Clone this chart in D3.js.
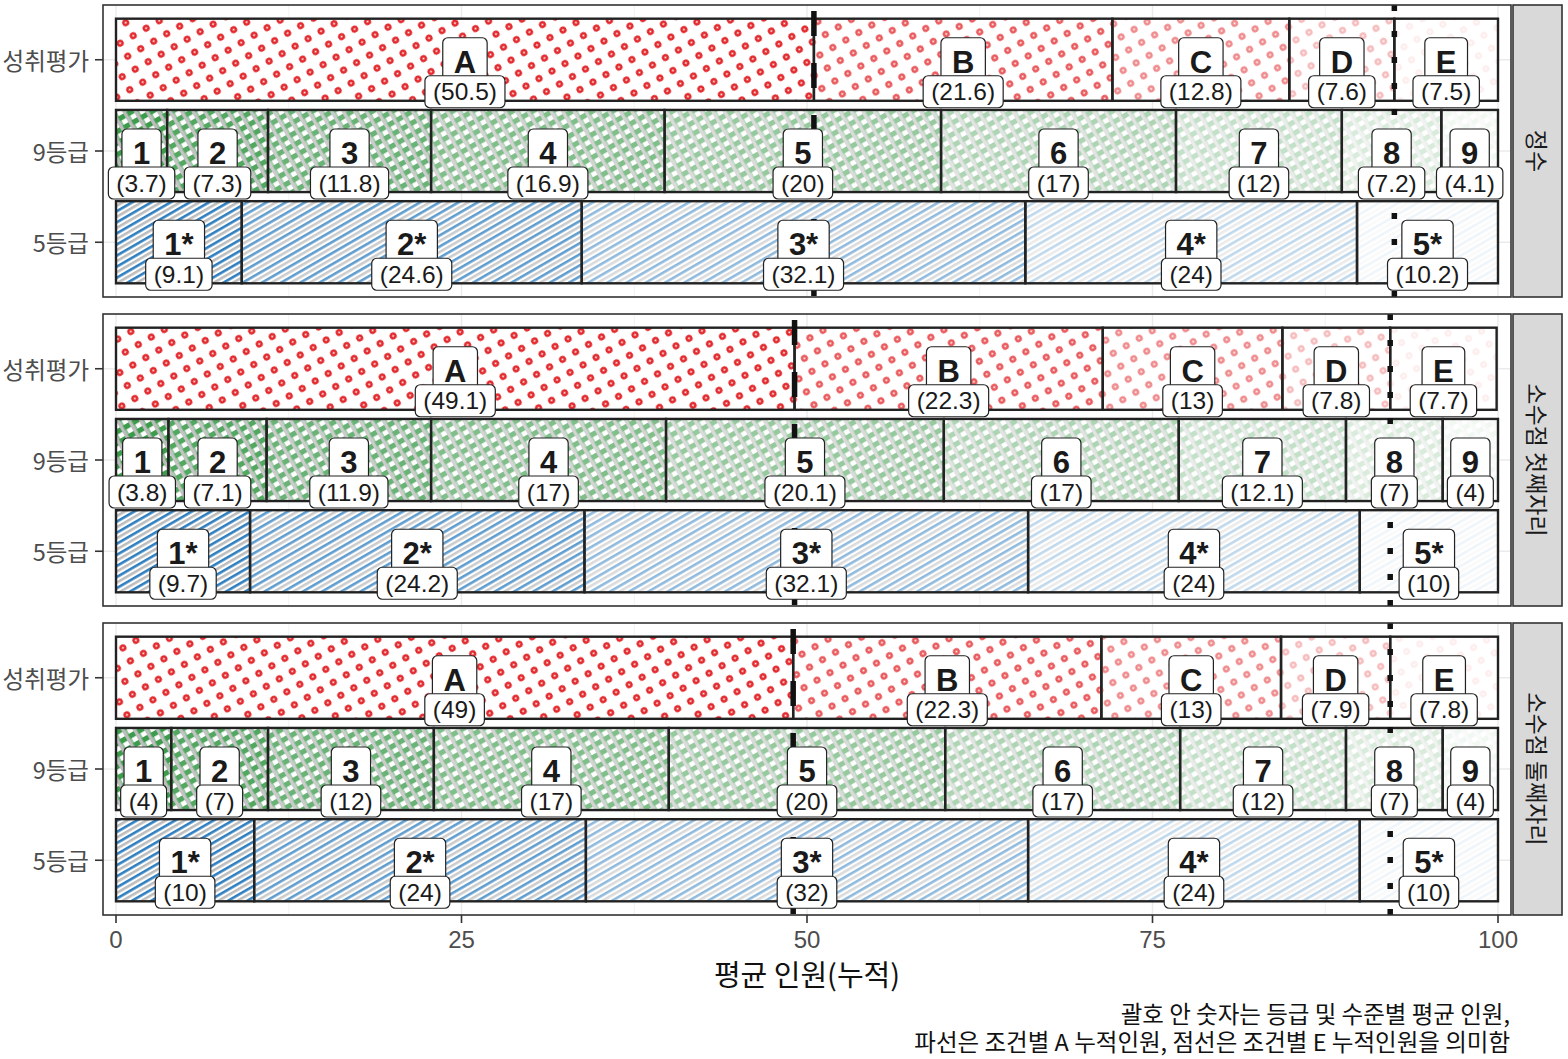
<!DOCTYPE html>
<html>
<head>
<meta charset="utf-8">
<script src="https://cdn.jsdelivr.net/npm/d3@7/dist/d3.min.js"></script>
<style>
  html, body { margin: 0; padding: 0; background: #fff; }
  svg { display: block; }
</style>
</head>
<body>
<svg id="chart" width="1568" height="1059"></svg>
<script>
// ---------------- data ----------------
const conditions = ["정수", "소수점 첫째자리", "소수점 둘째자리"];
const rowLabels = ["성취평가", "9등급", "5등급"];
const achieveLevels = ["A", "B", "C", "D", "E"];
const grade9Levels = ["1", "2", "3", "4", "5", "6", "7", "8", "9"];
const grade5Levels = ["1*", "2*", "3*", "4*", "5*"];
const achieveValues = [
  [50.5, 21.6, 12.8, 7.6, 7.5],
  [49.1, 22.3, 13, 7.8, 7.7],
  [49, 22.3, 13, 7.9, 7.8]
];
const grade9Values = [
  [3.7, 7.3, 11.8, 16.9, 20, 17, 12, 7.2, 4.1],
  [3.8, 7.1, 11.9, 17, 20.1, 17, 12.1, 7, 4],
  [4, 7, 12, 17, 20, 17, 12, 7, 4]
];
const grade5Values = [
  [9.1, 24.6, 32.1, 24, 10.2],
  [9.7, 24.2, 32.1, 24, 10],
  [10, 24, 32, 24, 10]
];
const xTicks = [0, 25, 50, 75, 100];
const xMinorTicks = [12.5, 37.5, 62.5, 87.5];
const xTitle = "평균 인원(누적)";
const captionLines = ["괄호 안 숫자는 등급 및 수준별 평균 인원,", "파선은 조건별 A 누적인원, 점선은 조건별 E 누적인원을 의미함"];

// ---------------- layout ----------------
const panelLeft = 103, panelRight = 1511;
const panelTops = [5, 314, 623];
const panelH = 292;
const stripX = 1513, stripW = 49;
const LATIN = "'Liberation Sans', Arial, 'Noto Sans CJK KR', sans-serif";
const KOR = "'Noto Sans CJK KR', 'Noto Sans', sans-serif";

const svg = d3.select("#chart");
const defs = svg.append("defs");

const x = d3.scaleLinear().domain([0, 100]).range([116, 1498]);

// ---------------- patterns ----------------
function alphaFor(i, n) { return 1 - (i / (n - 1)) * 0.92; }

function makeCirclePattern(id, a) {
  const p = defs.append("pattern").attr("id", id)
    .attr("patternUnits", "userSpaceOnUse").attr("width", 15).attr("height", 15)
    .attr("patternTransform", "rotate(-30)");
  p.append("circle").attr("cx", 7.5).attr("cy", 7.5).attr("r", 2.3)
    .attr("fill", "none").attr("stroke", "#e2262a").attr("stroke-width", 2.5)
    .attr("opacity", a);
}
function makeCrossPattern(id, a) {
  const P = 10;
  const p = defs.append("pattern").attr("id", id)
    .attr("patternUnits", "userSpaceOnUse").attr("width", P).attr("height", P)
    .attr("patternTransform", "rotate(-30)");
  const g = p.append("g").attr("opacity", a);
  g.append("rect").attr("x", 0).attr("y", 0).attr("width", P).attr("height", 5.2).attr("fill", "#3c9c4c");
  g.append("rect").attr("x", 0).attr("y", 0).attr("width", 3.6).attr("height", P).attr("fill", "#bdbdbd");
  g.append("line").attr("x1", 4.1).attr("x2", 4.1).attr("y1", 0).attr("y2", P)
    .attr("stroke", "#3c9c4c").attr("stroke-width", 1);
}
function makeStripePattern(id, a) {
  const P = 9.6;
  const p = defs.append("pattern").attr("id", id)
    .attr("patternUnits", "userSpaceOnUse").attr("width", P).attr("height", P)
    .attr("patternTransform", "rotate(-30)");
  const g = p.append("g").attr("opacity", a);
  g.append("rect").attr("x", 0).attr("y", 0).attr("width", P).attr("height", 2.6).attr("fill", "#2f7fc0");
  g.append("rect").attr("x", 0).attr("y", 4.8).attr("width", P).attr("height", 2.6).attr("fill", "#bdbdbd");
}
achieveLevels.forEach((l, i) => makeCirclePattern("pa" + i, alphaFor(i, achieveLevels.length)));
grade9Levels.forEach((l, i) => makeCrossPattern("pg9" + i, alphaFor(i, grade9Levels.length)));
grade5Levels.forEach((l, i) => makeStripePattern("pg5" + i, alphaFor(i, grade5Levels.length)));

const rowDefs = [
  { levels: achieveLevels, values: achieveValues, pat: "pa" },
  { levels: grade9Levels, values: grade9Values, pat: "pg9" },
  { levels: grade5Levels, values: grade5Values, pat: "pg5" }
];

// ---------------- panels ----------------
conditions.forEach((cond, pi) => {
  const top = panelTops[pi];
  const y = d3.scaleBand().domain(rowLabels).range([top, top + panelH])
    .paddingInner(0.1).paddingOuter(0.15);
  const g = svg.append("g");

  g.append("rect").attr("x", panelLeft).attr("y", top).attr("width", panelRight - panelLeft)
    .attr("height", panelH).attr("fill", "#fff");
  g.selectAll(".minor").data(xMinorTicks).join("line")
    .attr("x1", d => x(d)).attr("x2", d => x(d)).attr("y1", top).attr("y2", top + panelH)
    .attr("stroke", "#f0f0f0").attr("stroke-width", 0.8);
  g.selectAll(".major").data(xTicks).join("line")
    .attr("x1", d => x(d)).attr("x2", d => x(d)).attr("y1", top).attr("y2", top + panelH)
    .attr("stroke", "#ebebeb").attr("stroke-width", 1.4);
  g.selectAll(".hmajor").data(rowLabels).join("line")
    .attr("x1", panelLeft).attr("x2", panelRight)
    .attr("y1", d => y(d) + y.bandwidth() / 2).attr("y2", d => y(d) + y.bandwidth() / 2)
    .attr("stroke", "#ebebeb").attr("stroke-width", 1.4);

  const labelData = [];
  rowDefs.forEach((rd, ri) => {
    const vals = rd.values[pi];
    let cum = 0;
    const segs = vals.map((v, i) => { const s = { x0: cum, x1: cum + v, v, i, lab: rd.levels[i] }; cum += v; return s; });
    const rowY = y(rowLabels[ri]);
    const bh = y.bandwidth();
    g.selectAll(null).data(segs).join("rect")
      .attr("x", d => x(d.x0)).attr("y", rowY).attr("width", d => x(d.x1) - x(d.x0)).attr("height", bh)
      .attr("fill", "#fff");
    g.selectAll(null).data(segs).join("rect")
      .attr("x", d => x(d.x0)).attr("y", rowY).attr("width", d => x(d.x1) - x(d.x0)).attr("height", bh)
      .attr("fill", d => `url(#${rd.pat}${d.i})`)
      .attr("stroke", "#222").attr("stroke-width", 2.4);
    segs.forEach(s => labelData.push({ cx: x((s.x0 + s.x1) / 2), cy: rowY + bh / 2, lab: s.lab, v: s.v }));
  });

  const aCum = achieveValues[pi][0];
  const dCum = d3.sum(achieveValues[pi].slice(0, 4));
  g.append("line").attr("x1", x(aCum)).attr("x2", x(aCum)).attr("y1", top).attr("y2", top + panelH)
    .attr("stroke", "#111").attr("stroke-width", 5.5).attr("stroke-dasharray", "25 27")
    .attr("stroke-dashoffset", 46);
  g.append("line").attr("x1", x(dCum)).attr("x2", x(dCum)).attr("y1", top).attr("y2", top + panelH)
    .attr("stroke", "#111").attr("stroke-width", 5.5).attr("stroke-dasharray", "6 20");

  labelData.forEach(d => {
    const lg = g.append("g");
    const lt = lg.append("text").attr("x", d.cx).attr("y", d.cy + 13)
      .attr("text-anchor", "middle").attr("font-family", LATIN).attr("font-weight", "bold")
      .attr("font-size", 31).attr("fill", "#1a1a1a").text(d.lab);
    const lw = lt.node().getComputedTextLength() + 22;
    lg.insert("rect", "text").attr("x", d.cx - lw / 2).attr("y", d.cy - 22).attr("width", lw)
      .attr("height", 44).attr("rx", 5).attr("fill", "#fff").attr("stroke", "#222").attr("stroke-width", 1.2);
    const vg = g.append("g");
    const vc = d.cy + 32;
    const vt = vg.append("text").attr("x", d.cx).attr("y", vc + 8.5)
      .attr("text-anchor", "middle").attr("font-family", LATIN)
      .attr("font-size", 24.5).attr("fill", "#1a1a1a").text("(" + d3.format("")(d.v) + ")");
    const vw = vt.node().getComputedTextLength() + 16;
    vg.insert("rect", "text").attr("x", d.cx - vw / 2).attr("y", vc - 16).attr("width", vw)
      .attr("height", 32).attr("rx", 5).attr("fill", "#fff").attr("stroke", "#222").attr("stroke-width", 1.2);
  });

  g.append("rect").attr("x", panelLeft).attr("y", top).attr("width", panelRight - panelLeft)
    .attr("height", panelH).attr("fill", "none").attr("stroke", "#333").attr("stroke-width", 1.6);

  g.append("rect").attr("x", stripX).attr("y", top).attr("width", stripW).attr("height", panelH)
    .attr("fill", "#d9d9d9").attr("stroke", "#333").attr("stroke-width", 1.6);
  g.append("text").attr("transform", `translate(${stripX + stripW / 2},${top + panelH / 2}) rotate(90)`)
    .attr("text-anchor", "middle").attr("dominant-baseline", "central")
    .attr("font-family", KOR).attr("font-size", 23).attr("fill", "#1a1a1a").text(cond);

  const ya = g.append("g");
  rowLabels.forEach(r => {
    const cy = y(r) + y.bandwidth() / 2;
    ya.append("line").attr("x1", panelLeft - 8).attr("x2", panelLeft).attr("y1", cy).attr("y2", cy)
      .attr("stroke", "#333").attr("stroke-width", 1.6);
    ya.append("text").attr("x", 89).attr("y", cy).attr("text-anchor", "end")
      .attr("dominant-baseline", "central").attr("font-family", KOR).attr("font-size", 23.5)
      .attr("fill", "#4d4d4d").text(r);
  });
});

// ---------------- x axis ----------------
const bottom = panelTops[2] + panelH;
const xa = svg.append("g");
xTicks.forEach(t => {
  xa.append("line").attr("x1", x(t)).attr("x2", x(t)).attr("y1", bottom).attr("y2", bottom + 8)
    .attr("stroke", "#333").attr("stroke-width", 1.6);
  xa.append("text").attr("x", x(t)).attr("y", bottom + 33).attr("text-anchor", "middle")
    .attr("font-family", LATIN).attr("font-size", 24).attr("fill", "#4d4d4d").text(t);
});
svg.append("text").attr("x", (panelLeft + panelRight) / 2).attr("y", 986).attr("text-anchor", "middle")
  .attr("font-family", KOR).attr("font-size", 29).attr("fill", "#111").text(xTitle);

const cap = svg.append("text").attr("text-anchor", "end")
  .attr("font-family", KOR).attr("font-size", 23.5).attr("fill", "#111");
captionLines.forEach((c, i) => {
  cap.append("tspan").attr("x", 1510).attr("y", 1023 + i * 28).text(c);
});
</script>
</body>
</html>
